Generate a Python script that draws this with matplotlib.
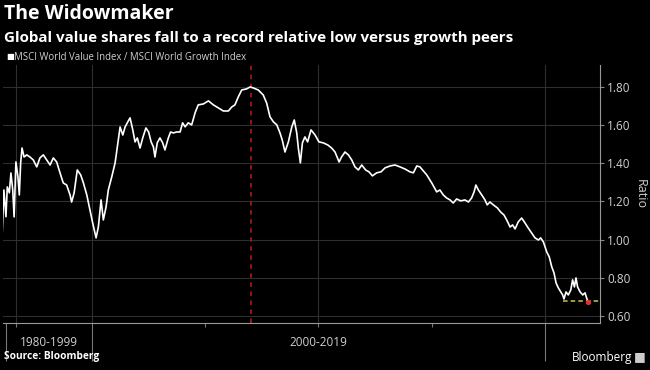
import matplotlib
matplotlib.use("Agg")
import matplotlib.pyplot as plt
import matplotlib.transforms as mtransforms

# MSCI World Value / MSCI World Growth (year, ratio)
years = [1996.01, 1996.11, 1996.20, 1996.26, 1996.35, 1996.42, 1996.50, 1996.56, 1996.64, 1996.73,
         1996.79, 1996.85, 1996.91, 1997.00, 1997.12, 1997.26, 1997.41, 1997.56, 1997.70, 1997.85,
         1998.00, 1998.15, 1998.29, 1998.44, 1998.59, 1998.73, 1998.88, 1999.03, 1999.10, 1999.21,
         1999.35, 1999.50, 1999.62, 1999.77, 1999.91, 2000.03, 2000.18, 2000.28, 2000.40, 2000.50,
         2000.62, 2000.72, 2000.87, 2001.02, 2001.12, 2001.24, 2001.36, 2001.46, 2001.58, 2001.68,
         2001.80, 2001.90, 2002.00, 2002.12, 2002.24, 2002.38, 2002.50, 2002.61, 2002.71, 2002.78,
         2002.88, 2003.00, 2003.12, 2003.22, 2003.37, 2003.47, 2003.59, 2003.74, 2003.89, 2004.00,
         2004.11, 2004.25, 2004.40, 2004.55, 2004.65, 2004.69, 2004.92, 2005.14, 2005.36, 2005.58,
         2005.80, 2006.02, 2006.17, 2006.31, 2006.46, 2006.61, 2006.83, 2006.98, 2007.12, 2007.34,
         2007.56, 2007.71, 2007.86, 2008.01, 2008.16, 2008.30, 2008.40, 2008.52, 2008.67, 2008.82,
         2008.93, 2009.04, 2009.11, 2009.20, 2009.29, 2009.40, 2009.52, 2009.67, 2009.85, 2010.02,
         2010.21, 2010.41, 2010.58, 2010.73, 2010.91, 2011.02, 2011.17, 2011.32, 2011.47, 2011.61,
         2011.76, 2011.91, 2012.08, 2012.23, 2012.38, 2012.57, 2012.76, 2012.94, 2013.16, 2013.38,
         2013.60, 2013.82, 2014.04, 2014.19, 2014.34, 2014.48, 2014.63, 2014.78, 2015.00, 2015.22,
         2015.36, 2015.51, 2015.66, 2015.81, 2015.95, 2016.10, 2016.28, 2016.47, 2016.62, 2016.76,
         2016.87, 2016.95, 2017.06, 2017.21, 2017.35, 2017.45, 2017.57, 2017.72, 2017.90, 2018.04,
         2018.19, 2018.31, 2018.46, 2018.57, 2018.68, 2018.82, 2018.97, 2019.12, 2019.26, 2019.41,
         2019.56, 2019.71, 2019.81, 2019.93, 2020.08, 2020.19, 2020.30, 2020.40, 2020.49, 2020.59,
         2020.70, 2020.78, 2020.84, 2020.93, 2021.03, 2021.14, 2021.22, 2021.30, 2021.37, 2021.44,
         2021.55, 2021.67, 2021.77, 2021.84, 2021.91]
ratio = [0.963, 1.260, 1.120, 1.276, 1.245, 1.349, 1.260, 1.119, 1.407, 1.328,
         1.234, 1.402, 1.480, 1.433, 1.444, 1.433, 1.417, 1.381, 1.428, 1.444,
         1.417, 1.391, 1.428, 1.407, 1.349, 1.297, 1.286, 1.234, 1.197, 1.245,
         1.365, 1.339, 1.297, 1.234, 1.155, 1.087, 1.009, 1.066, 1.208, 1.103,
         1.171, 1.260, 1.328, 1.402, 1.486, 1.590, 1.548, 1.590, 1.617, 1.638,
         1.575, 1.512, 1.533, 1.480, 1.533, 1.585, 1.564, 1.512, 1.486, 1.433,
         1.507, 1.533, 1.507, 1.470, 1.533, 1.564, 1.559, 1.564, 1.564, 1.612,
         1.591, 1.612, 1.601, 1.664, 1.695, 1.706, 1.711, 1.727, 1.706, 1.690,
         1.674, 1.674, 1.695, 1.706, 1.748, 1.784, 1.790, 1.800, 1.795, 1.784,
         1.758, 1.716, 1.643, 1.617, 1.601, 1.559, 1.522, 1.459, 1.512, 1.590,
         1.627, 1.559, 1.480, 1.402, 1.507, 1.538, 1.512, 1.575, 1.548, 1.512,
         1.507, 1.496, 1.480, 1.459, 1.407, 1.433, 1.459, 1.444, 1.417, 1.381,
         1.365, 1.391, 1.365, 1.355, 1.334, 1.350, 1.355, 1.376, 1.386, 1.391,
         1.381, 1.370, 1.355, 1.350, 1.386, 1.381, 1.360, 1.339, 1.297, 1.250,
         1.260, 1.234, 1.218, 1.208, 1.192, 1.213, 1.203, 1.208, 1.197, 1.218,
         1.250, 1.286, 1.260, 1.234, 1.208, 1.182, 1.197, 1.182, 1.166, 1.145,
         1.129, 1.103, 1.066, 1.077, 1.056, 1.093, 1.113, 1.087, 1.061, 1.035,
         1.009, 0.998, 1.009, 0.988, 0.935, 0.909, 0.857, 0.825, 0.773, 0.747,
         0.726, 0.710, 0.689, 0.726, 0.710, 0.736, 0.789, 0.752, 0.799, 0.752,
         0.726, 0.710, 0.721, 0.694, 0.673]

peak_year = 2007.0
prev_low_start = 2020.8
prev_low = 0.678

yticks = [0.6, 0.8, 1.0, 1.2, 1.4, 1.6, 1.8]
period_labels = ["1980-1999", "2000-2019"]
period_bounds = [1996.2, 2000.0, 2020.0]
minor_xticks = [1996.64, 2005.0, 2010.0, 2015.0]
xgrid = [1996.64, 2000.0, 2010.0, 2020.0]

plt.rcParams['font.family'] = ['Open Sans', 'DejaVu Sans']

fig = plt.figure(figsize=(6.5, 3.7), dpi=100, facecolor="black")
ax = fig.add_axes([3 / 650, 47 / 370, 597 / 650, 258 / 370], facecolor="black")

for y in yticks:
    ax.axhline(y, color="#2e2e2e", lw=0.8, zorder=0)
for x in xgrid:
    ax.axvline(x, color="#2e2e2e", lw=0.8, zorder=0)

ax.axvline(peak_year, color="#a01818", lw=1.3, ls=(0, (2.5, 2.5)), zorder=1)
ax.hlines(prev_low, prev_low_start, 2022.43, color="#c9c84a", lw=1.1, ls=(0, (3, 2)), zorder=2)
ax.plot(years, ratio, color="white", lw=1.2, zorder=3)
ax.plot(years[-1], ratio[-1], "o", color="#e03030", ms=2.8, zorder=4)

ax.set_xlim(1996.07, 2022.43)
ax.set_ylim(0.563, 1.915)

ax.yaxis.tick_right()
ax.set_yticks(yticks)
ax.set_yticklabels([f"{v:.2f}" for v in yticks])
ax.tick_params(axis="y", colors="#888888", labelcolor="#d0d0d0", labelsize=8.5, length=3, pad=2)

ax.set_xticks(period_bounds)
ax.set_xticklabels([])
ax.set_xticks(minor_xticks, minor=True)
ax.tick_params(axis="x", which="major", colors="#777777", length=27, width=0.8)
ax.tick_params(axis="x", which="minor", colors="#777777", length=3, width=0.8)

for side in ["top", "left"]:
    ax.spines[side].set_visible(False)
ax.spines["bottom"].set_color("#999999")
ax.spines["right"].set_color("#999999")

ax.set_ylabel("Ratio", color="#d0d0d0", fontsize=9, rotation=270, labelpad=12)
ax.yaxis.set_label_position("right")

trans = mtransforms.blended_transform_factory(ax.transData, fig.transFigure)
for i, lab in enumerate(period_labels):
    mid = (period_bounds[i] + period_bounds[i + 1]) / 2
    ax.text(mid, 1 - 343 / 370, lab, transform=trans, ha="center", va="center",
            color="#d0d0d0", fontsize=8.5)

fig.text(4 / 650, 1 - 14 / 370, "The Widowmaker", color="white", fontsize=14,
         fontweight="bold", va="center", ha="left")
fig.text(4 / 650, 1 - 38 / 370,
         "Global value shares fall to a record relative low versus growth peers",
         color="white", fontsize=10.9, fontweight="bold", va="center", ha="left")
fig.text(6 / 650, 1 - 58 / 370, "\u25a0", color="white", fontsize=6, va="center", ha="left")
fig.text(14 / 650, 1 - 58 / 370, "MSCI World Value Index / MSCI World Growth Index",
         color="#d0d0d0", fontsize=6.9, va="center", ha="left")
fig.text(4 / 650, 1 - 357 / 370, "Source: Bloomberg", color="white", fontsize=7.3,
         fontweight="bold", va="center", ha="left")
fig.text(632 / 650, 1 - 357 / 370, "Bloomberg", color="white", fontsize=8.5,
         va="center", ha="right")
fig.text(646 / 650, 1 - 357 / 370, "\u25a0", color="#cccccc", fontsize=9,
         va="center", ha="right")

fig.savefig("out.png", dpi=100, facecolor="black")
